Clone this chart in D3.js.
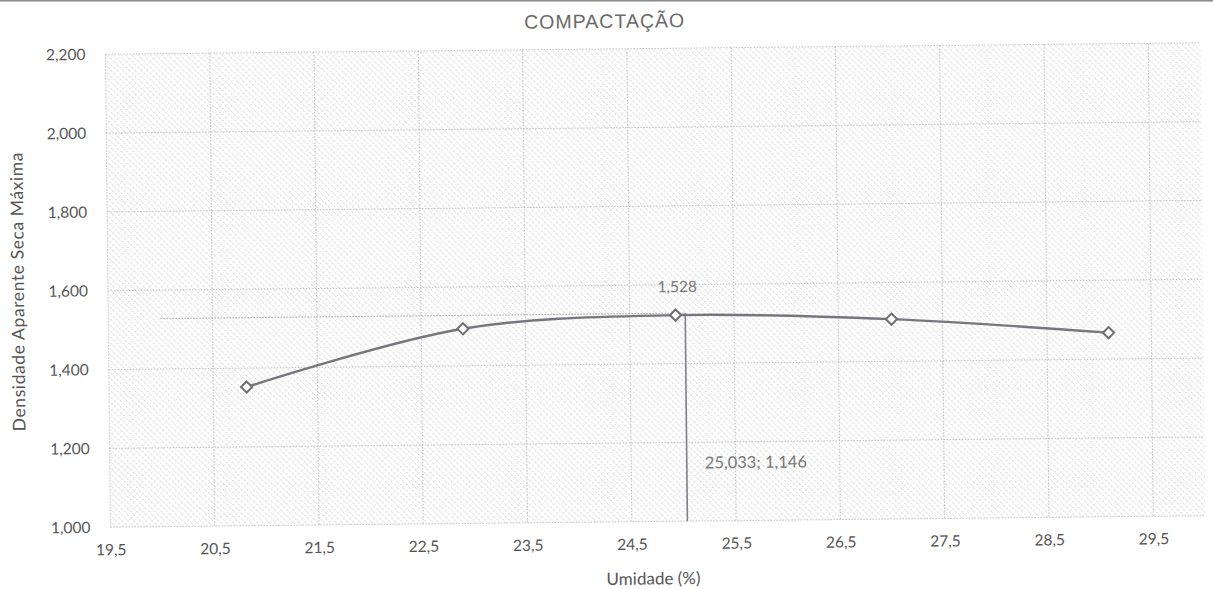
<!DOCTYPE html>
<html><head><meta charset="utf-8">
<script src="https://cdn.jsdelivr.net/npm/d3@7"></script>
<style>
html,body{margin:0;padding:0;background:#fff;}
svg{display:block;}
</style></head>
<body>
<svg id="chart" width="1213" height="589"></svg>
<script>
// ---- data ----
const umidade = [20.82, 22.90, 24.94, 27.01, 29.09];
const densidade = [1352, 1494, 1523, 1507, 1467];
const xTicks = [19.5, 20.5, 21.5, 22.5, 23.5, 24.5, 25.5, 26.5, 27.5, 28.5, 29.5];
const yTicks = [1000, 1200, 1400, 1600, 1800, 2000, 2200];
const otimoX = 25.033, otimoY = 1528, otimoBaseY = 1000, hLineStartX = 20.0;
const maxLabel = "1,528";
const otimoLabel = "25,033; 1,146";
const title = "COMPACTAÇÃO";
const xTitle = "Umidade (%)";
const yTitle = "Densidade Aparente Seca Máxima";

const W = 1213, H = 589;
const m = {left:108, right:10, top:49, bottom:67};
const pw = W - m.left - m.right, ph = H - m.top - m.bottom;

const svg = d3.select("#chart");
const defs = svg.append("defs");
const pat = defs.append("pattern").attr("id","hatch").attr("patternUnits","userSpaceOnUse")
  .attr("width",6).attr("height",6);
pat.append("path").attr("d","M-1,-1 L7,7 M-1,5 L1,7 M5,-1 L7,1").attr("stroke","#b8b8bd").attr("stroke-width",0.8).attr("stroke-dasharray","1,1.2");
pat.append("path").attr("d","M-1,7 L7,-1 M-1,1 L1,-1 M5,7 L7,5").attr("stroke","#d2d2d5").attr("stroke-width",0.6).attr("stroke-dasharray","1,2");

// scan border at top
svg.append("rect").attr("x",0).attr("y",0).attr("width",W).attr("height",1.5).attr("fill","#8a8a8a");

const root = svg.append("g").attr("transform",`rotate(-0.6 ${W/2} ${H/2})`);

const x = d3.scaleLinear().domain([19.5, 30]).range([m.left, m.left+pw]);
const y = d3.scaleLinear().domain([1000, 2200]).range([m.top+ph, m.top]);

root.append("rect").attr("x",m.left).attr("y",m.top).attr("width",pw).attr("height",ph).attr("fill","url(#hatch)");

// gridlines
const grid = root.append("g").attr("stroke","#b5b5ba").attr("stroke-width",0.8).attr("stroke-dasharray","1.5,1.5");
grid.selectAll("line.h").data(yTicks).join("line").attr("class","h")
  .attr("x1",m.left).attr("x2",m.left+pw).attr("y1",d=>y(d)).attr("y2",d=>y(d));
grid.selectAll("line.v").data(xTicks).join("line").attr("class","v")
  .attr("y1",m.top).attr("y2",m.top+ph).attr("x1",d=>x(d)).attr("x2",d=>x(d));

// axes (labels only)
const font = "Lato, 'Open Sans', sans-serif";
const xAxis = root.append("g").attr("transform",`translate(0,${m.top+ph})`)
  .call(d3.axisBottom(x).tickValues(xTicks).tickSize(0).tickPadding(17).tickFormat(d=>d3.format(".1f")(d).replace(".",",")));
const yAxis = root.append("g").attr("transform",`translate(${m.left},0)`)
  .call(d3.axisLeft(y).tickValues(yTicks).tickSize(0).tickPadding(20).tickFormat(d=>d3.format(",")(d).replace(/\s/g,"")));
[xAxis,yAxis].forEach(a=>{
  a.select(".domain").remove();
  a.selectAll("text").attr("fill","#555").style("font-family",font).style("font-size","15.5px");
});

// optimum lines
root.append("line").attr("x1",x(hLineStartX)).attr("x2",x(otimoX)).attr("y1",y(otimoY)).attr("y2",y(otimoY))
  .attr("stroke","#a5a5ab").attr("stroke-width",1).attr("stroke-dasharray","1.5,1.5");
root.append("line").attr("x1",x(otimoX)).attr("x2",x(otimoX)).attr("y1",y(otimoBaseY)).attr("y2",y(otimoY))
  .attr("stroke","#808088").attr("stroke-width",1.6);

// curve
const pts = umidade.map((u,i)=>[u, densidade[i]]);
root.append("path").datum(pts)
  .attr("d", d3.line().x(d=>x(d[0])).y(d=>y(d[1])).curve(d3.curveCatmullRom.alpha(0.5)))
  .attr("fill","none").attr("stroke","#76767e").attr("stroke-width",2.4);

// markers
root.selectAll("path.mk").data(pts).join("path").attr("class","mk")
  .attr("d", d3.symbol(d3.symbolDiamond2, 80)())
  .attr("transform", d=>`translate(${x(d[0])},${y(d[1])})`)
  .attr("fill","#fff").attr("stroke","#6e6e76").attr("stroke-width",2);

// data labels
root.append("text").attr("x",x(umidade[2])+2).attr("y",y(densidade[2])-23).attr("text-anchor","middle")
  .attr("fill","#777").style("font-family",font).style("font-size","15.5px").text(maxLabel);
root.append("text").attr("x",x(otimoX)+18).attr("y",y(1146)+5).attr("text-anchor","start")
  .attr("fill","#777").style("font-family",font).style("font-size","16.5px").text(otimoLabel);

// titles
root.append("text").attr("x",W/2+1).attr("y",28).attr("text-anchor","middle")
  .attr("fill","#6a6a6a").style("font-family","'Liberation Sans', Arial, sans-serif").style("font-size","19.5px")
  .style("letter-spacing","1px").text(title);
root.append("text").attr("x",m.left+pw/2 - 5).attr("y",H-4).attr("text-anchor","middle")
  .attr("fill","#555").style("font-family",font).style("font-size","17px").text(xTitle);
root.append("text").attr("transform",`translate(24,${m.top+ph/2}) rotate(-90)`).attr("text-anchor","middle")
  .attr("fill","#555").style("font-family",font).style("font-size","17.5px").style("letter-spacing","0.6px").text(yTitle);
</script>
</body></html>
